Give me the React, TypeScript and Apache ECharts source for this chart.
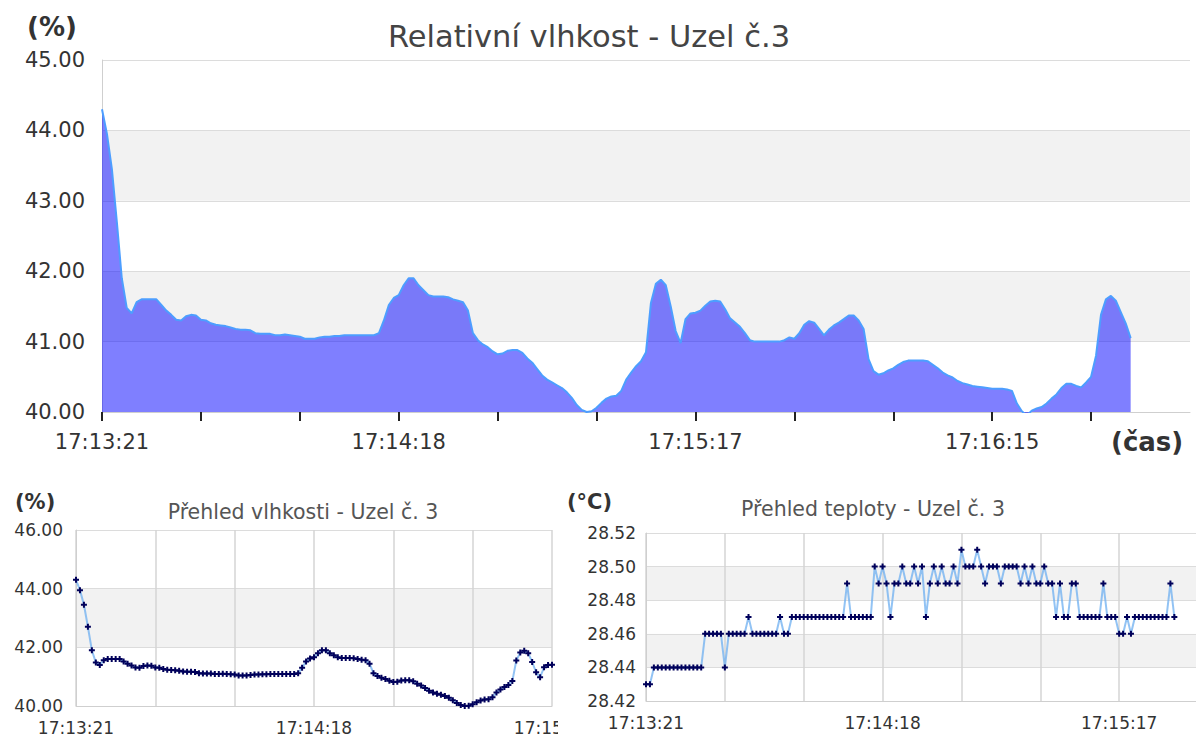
import React, { useEffect, useRef } from 'react';
import * as echarts from 'echarts';

const timeLabels = ['17:13:21', '17:14:18', '17:15:17', '17:16:15'];
const mainTickValues = [0, 20, 40, 60, 80, 100, 120, 140, 160, 180, 200];
const mainLabelValues = [0, 60, 120, 180];
const overviewLabelValues = [0, 60, 120];

const mainTitle = 'Relativní vlhkost - Uzel č.3';
const humTitle = 'Přehled vlhkosti - Uzel č. 3';
const tempTitle = 'Přehled teploty - Uzel č. 3';

// relative humidity (%) – one value per sample
const humidity = [
  44.3, 43.95, 43.45, 42.7, 41.9, 41.48, 41.4, 41.56, 41.6, 41.6,
  41.6, 41.6, 41.52, 41.44, 41.38, 41.31, 41.3, 41.36, 41.38, 41.37,
  41.31, 41.3, 41.26, 41.24, 41.23, 41.22, 41.2, 41.18, 41.17, 41.17,
  41.16, 41.12, 41.11, 41.11, 41.11, 41.09, 41.09, 41.1, 41.09, 41.08,
  41.07, 41.04, 41.04, 41.04, 41.06, 41.07, 41.07, 41.08, 41.08, 41.09,
  41.09, 41.09, 41.09, 41.09, 41.09, 41.09, 41.12, 41.3, 41.52, 41.62,
  41.66, 41.8, 41.9, 41.9, 41.8, 41.73, 41.66, 41.64, 41.64, 41.64,
  41.63, 41.6, 41.58, 41.56, 41.44, 41.12, 41.02, 40.96, 40.92, 40.86,
  40.82, 40.83, 40.87, 40.88, 40.88, 40.84, 40.76, 40.7, 40.61, 40.52,
  40.46, 40.42, 40.38, 40.34, 40.28, 40.2, 40.1, 40.03, 40.0, 40.01,
  40.06, 40.13, 40.19, 40.22, 40.23, 40.3, 40.46, 40.56, 40.65, 40.72,
  40.85, 41.55, 41.82, 41.88, 41.8, 41.5, 41.15, 40.98, 41.32, 41.4,
  41.41, 41.44, 41.51, 41.57, 41.58, 41.57, 41.46, 41.33, 41.27, 41.21,
  41.12, 41.02, 41.0, 41.0, 41.0, 41.0, 41.0, 41.0, 41.02, 41.06,
  41.04, 41.12, 41.24, 41.29, 41.27, 41.18, 41.09, 41.17, 41.23, 41.27,
  41.32, 41.37, 41.37, 41.3, 41.18, 40.75, 40.58, 40.53, 40.55, 40.59,
  40.62, 40.67, 40.71, 40.73, 40.73, 40.73, 40.73, 40.72, 40.67, 40.62,
  40.56, 40.52, 40.49, 40.44, 40.41, 40.39, 40.37, 40.36, 40.35, 40.34,
  40.33, 40.33, 40.33, 40.32, 40.3, 40.12, 40.01, 39.95, 40.02, 40.05,
  40.07, 40.12, 40.19, 40.25, 40.34, 40.4, 40.4, 40.37, 40.35, 40.42,
  40.5, 40.8, 41.38, 41.6, 41.65, 41.58, 41.42, 41.26, 41.05,
];

// temperature (°C) – one value per sample
const temperature = [
  28.43, 28.43, 28.44, 28.44, 28.44, 28.44, 28.44, 28.44, 28.44, 28.44,
  28.44, 28.44, 28.44, 28.44, 28.44, 28.46, 28.46, 28.46, 28.46, 28.46,
  28.44, 28.46, 28.46, 28.46, 28.46, 28.46, 28.47, 28.46, 28.46, 28.46,
  28.46, 28.46, 28.46, 28.46, 28.47, 28.46, 28.46, 28.47, 28.47, 28.47,
  28.47, 28.47, 28.47, 28.47, 28.47, 28.47, 28.47, 28.47, 28.47, 28.47,
  28.47, 28.49, 28.47, 28.47, 28.47, 28.47, 28.47, 28.47, 28.5, 28.49,
  28.5, 28.49, 28.47, 28.49, 28.49, 28.5, 28.49, 28.49, 28.5, 28.49,
  28.5, 28.47, 28.49, 28.5, 28.49, 28.5, 28.49, 28.49, 28.5, 28.49,
  28.51, 28.5, 28.5, 28.5, 28.51, 28.5, 28.49, 28.5, 28.5, 28.5,
  28.49, 28.5, 28.5, 28.5, 28.5, 28.49, 28.5, 28.49, 28.5, 28.49,
  28.49, 28.5, 28.49, 28.49, 28.47, 28.49, 28.47, 28.47, 28.49, 28.49,
  28.47, 28.47, 28.47, 28.47, 28.47, 28.47, 28.49, 28.47, 28.47, 28.47,
  28.46, 28.46, 28.47, 28.46, 28.47, 28.47, 28.47, 28.47, 28.47, 28.47,
  28.47, 28.47, 28.47, 28.49, 28.47,
];

const FONT = 'DejaVu Sans';
const PLUS = 'path://M2,0L4,0L4,2L6,2L6,4L4,4L4,6L2,6L2,4L0,4L0,2L2,2Z';

const timeFmt = (v: number) => (v % 60 === 0 && timeLabels[v / 60] ? timeLabels[v / 60] : '');
const fix2 = (v: number) => v.toFixed(2);

function Chart({ option, style }: { option: any; style: React.CSSProperties }) {
  const ref = useRef<HTMLDivElement>(null);
  useEffect(() => {
    if (!ref.current) return;
    const chart = echarts.init(ref.current, undefined, { renderer: 'svg' });
    chart.setOption(option);
    return () => chart.dispose();
  }, [option]);
  return <div ref={ref} style={{ position: 'absolute', overflow: 'hidden', ...style }} />;
}

const mainOption = {
  animation: false,
  title: {
    text: mainTitle,
    left: 589,
    top: 21,
    padding: 0,
    textAlign: 'center',
    textStyle: { fontFamily: FONT, fontSize: 30.5, fontWeight: 'normal', color: '#444' },
  },
  grid: { left: 102, top: 60, width: 1088, height: 352, outerBoundsMode: 'none' },
  xAxis: {
    type: 'value',
    min: 0,
    max: 220,
    interval: 20,
    axisLine: { lineStyle: { color: '#cfcfcf', width: 1 } },
    axisTick: { show: true, length: 9, customValues: mainTickValues, lineStyle: { color: '#222', width: 2 } },
    axisLabel: { formatter: timeFmt, customValues: mainLabelValues, fontFamily: FONT, fontSize: 21, color: '#333', margin: 19 },
    splitLine: { show: false },
  },
  yAxis: {
    type: 'value',
    min: 40,
    max: 45,
    interval: 1,
    axisLine: { show: true, lineStyle: { color: '#cfcfcf' } },
    axisTick: { show: false },
    axisLabel: { formatter: fix2, fontFamily: FONT, fontSize: 21, color: '#333', margin: 17 },
    splitLine: { lineStyle: { color: '#dcdcdc' } },
    splitArea: { show: true, areaStyle: { color: ['#ffffff', '#f2f2f2'] } },
  },
  graphic: [
    { type: 'text', left: 27, top: 14, style: { text: '(%)', fontFamily: FONT, fontSize: 26, fontWeight: 'bold', fill: '#333' } },
    { type: 'text', left: 1111, top: 429, style: { text: '(čas)', fontFamily: FONT, fontSize: 26, fontWeight: 'bold', fill: '#333' } },
  ],
  series: [
    {
      type: 'line',
      data: humidity.map((v, i) => [i, v]),
      symbol: 'none',
      lineStyle: { color: '#4d9eff', width: 2 },
      areaStyle: { color: '#0000ff', opacity: 0.5, origin: 'start' },
    },
  ],
};

function overviewOption(cfg: any) {
  return {
    animation: false,
    title: {
      text: cfg.title,
      left: cfg.titleX,
      top: cfg.titleY,
      padding: 0,
      textAlign: 'center',
      textStyle: { fontFamily: FONT, fontSize: 20.5, fontWeight: 'normal', color: '#555' },
    },
    grid: { ...cfg.grid, outerBoundsMode: 'none' },
    xAxis: {
      type: 'value',
      min: 0,
      max: cfg.xMax,
      interval: 20,
      axisLine: { lineStyle: { color: '#cfcfcf' } },
      axisTick: { show: false },
      axisLabel: { formatter: timeFmt, customValues: overviewLabelValues, fontFamily: FONT, fontSize: 17, color: '#333', margin: 13 },
      splitLine: { show: true, lineStyle: { color: '#d4d4d4', width: 1.5 } },
    },
    yAxis: {
      type: 'value',
      min: cfg.yMin,
      max: cfg.yMax,
      interval: cfg.yInterval,
      axisLine: { show: true, lineStyle: { color: '#cfcfcf' } },
      axisTick: { show: false },
      axisLabel: { formatter: fix2, fontFamily: FONT, fontSize: 17, color: '#333', margin: cfg.yMargin },
      splitLine: { lineStyle: { color: '#dcdcdc' } },
      splitArea: { show: true, areaStyle: { color: ['#ffffff', '#f2f2f2'] } },
    },
    graphic: [
      { type: 'text', left: cfg.unitX, top: 11, style: { text: cfg.unit, fontFamily: FONT, fontSize: 21, fontWeight: 'bold', fill: '#333' } },
    ],
    series: [
      {
        type: 'line',
        data: cfg.values.map((v: number, i: number) => [i, v]),
        symbol: PLUS,
        symbolSize: 6,
        itemStyle: { color: '#00005a' },
        lineStyle: { color: 'rgba(110,175,240,0.75)', width: 2 },
      },
    ],
  };
}

const humOption = overviewOption({
  title: humTitle,
  titleX: 303,
  titleY: 21,
  grid: { left: 76, top: 50, width: 476, height: 176 },
  xMax: 120,
  yMin: 40,
  yMax: 46,
  yInterval: 2,
  yMargin: 13,
  unit: '(%)',
  unitX: 15,
  values: humidity,
});

const tempOption = overviewOption({
  title: tempTitle,
  titleX: 315,
  titleY: 18,
  grid: { left: 88, top: 53, width: 552, height: 168 },
  xMax: 140,
  yMin: 28.42,
  yMax: 28.52,
  yInterval: 0.02,
  yMargin: 10,
  unit: '(°C)',
  unitX: 9,
  values: temperature,
});

export default function App() {
  return (
    <div style={{ position: 'fixed', left: 0, top: 0, width: 1196, height: 737, overflow: 'hidden', background: '#fff' }}>
      <Chart option={mainOption} style={{ left: 0, top: 0, width: 1196, height: 470 }} />
      <Chart option={humOption} style={{ left: 0, top: 480, width: 558, height: 257 }} />
      <Chart option={tempOption} style={{ left: 558, top: 480, width: 660, height: 257 }} />
    </div>
  );
}
